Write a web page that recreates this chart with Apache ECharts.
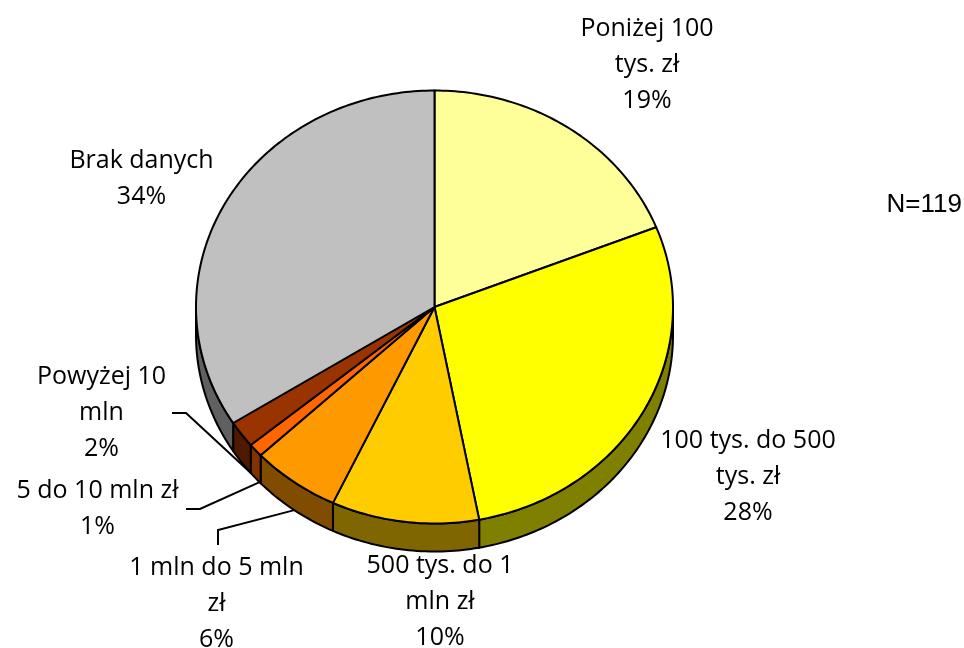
<!DOCTYPE html>
<html>
<head>
<meta charset="utf-8">
<script src="https://cdn.jsdelivr.net/npm/echarts@6/dist/echarts.min.js"></script>
<style>
  html, body { margin: 0; padding: 0; background: #ffffff; }
  #chart { width: 964px; height: 648px; }
</style>
</head>
<body>
<div id="chart"></div>
<script>
// Revenue bands of the surveyed companies (share of answers, %)
const categories = [
  'Poniżej 100 tys. zł',
  '100 tys. do 500 tys. zł',
  '500 tys. do 1 mln zł',
  '1 mln do 5 mln zł',
  '5 do 10 mln zł',
  'Powyżej 10 mln',
  'Brak danych'
];
// category names as they are wrapped on the chart
const categoryLines = [
  ['Poniżej 100', 'tys. zł'],
  ['100 tys. do 500', 'tys. zł'],
  ['500 tys. do 1', 'mln zł'],
  ['1 mln do 5 mln', 'zł'],
  ['5 do 10 mln zł'],
  ['Powyżej 10', 'mln'],
  ['Brak danych']
];
const shares = [19, 28, 10, 6, 1, 2, 34];
const sampleNote = 'N=119';

// ---- look & layout ----
const PIE = { cx: 434.5, cy: 307, rx: 238.5, ry: 216.5, depth: 28 };
const topColors  = ['#FFFF99', '#FFFF00', '#FFCC00', '#FF9900', '#FF6600', '#993300', '#C0C0C0'];
const sideColors = ['#80804D', '#808000', '#806600', '#804C00', '#803300', '#4D1A00', '#606060'];
const LABEL_FONT = '"Open Sans", "DejaVu Sans", sans-serif';
const labelLayout = [
  { x: 647,   y: 65 },
  { x: 748,   y: 477 },
  { x: 440,   y: 602 },
  { x: 216.5, y: 604, leader: [[218, 545], [218, 530]], anchor: 0.5 },
  { x: 97.5,  y: 509, leader: [[186, 509], [200, 509]], anchor: 0.1 },
  { x: 101.5, y: 413, leader: [[172, 413], [186, 413]], anchor: 0.05 },
  { x: 141.5, y: 179 }
];

const total = shares.reduce((s, v) => s + v, 0);
function sliceAngles(i) {
  let before = 0;
  for (let k = 0; k < i; k++) before += shares[k];
  return [before / total * 360, (before + shares[i]) / total * 360];
}
// point on the pie's elliptical rim; angle in degrees, clockwise from 12 o'clock
function rimPoint(deg, dy) {
  const a = deg * Math.PI / 180;
  return [PIE.cx + PIE.rx * Math.sin(a), PIE.cy - PIE.ry * Math.cos(a) + dy];
}
function rimArc(a0, a1, dy) {
  const n = Math.max(2, Math.ceil(Math.abs(a1 - a0)));
  const pts = [];
  for (let k = 0; k <= n; k++) pts.push(rimPoint(a0 + (a1 - a0) * k / n, dy));
  return pts;
}
const edgeStyle = { stroke: '#000000', lineWidth: 2, lineJoin: 'round' };

const chart = echarts.init(document.getElementById('chart'), null, { renderer: 'canvas' });

chart.setOption({
  backgroundColor: '#ffffff',
  animation: false,
  graphic: [{
    type: 'text',
    x: 962, y: 205,
    style: {
      text: sampleNote,
      fontFamily: '"Liberation Sans", Arial, sans-serif',
      fontSize: 26,
      fill: '#000000',
      align: 'right',
      verticalAlign: 'middle'
    }
  }],
  series: [
    {
      // front walls of the slices
      type: 'custom',
      coordinateSystem: 'none',
      silent: true,
      z: 1,
      data: shares,
      renderItem: function (params, api) {
        const i = params.dataIndex;
        const [a0, a1] = sliceAngles(i);
        const s = Math.max(a0, 90), e = Math.min(a1, 270);
        if (s >= e) return { type: 'group', children: [] };
        const pts = rimArc(s, e, 0).concat(rimArc(e, s, PIE.depth));
        return {
          type: 'polygon',
          shape: { points: pts },
          style: Object.assign({ fill: sideColors[i] }, edgeStyle)
        };
      }
    },
    {
      // top faces of the slices
      type: 'custom',
      coordinateSystem: 'none',
      silent: true,
      z: 2,
      data: shares,
      renderItem: function (params, api) {
        const i = params.dataIndex;
        const [a0, a1] = sliceAngles(i);
        const pts = [[PIE.cx, PIE.cy]].concat(rimArc(a0, a1, 0));
        return {
          type: 'polygon',
          shape: { points: pts },
          style: Object.assign({ fill: topColors[i] }, edgeStyle)
        };
      }
    },
    {
      // data labels with leader lines
      type: 'custom',
      coordinateSystem: 'none',
      silent: true,
      z: 3,
      data: shares,
      renderItem: function (params, api) {
        const i = params.dataIndex;
        const lay = labelLayout[i];
        const children = [{
          type: 'text',
          x: lay.x, y: lay.y,
          style: {
            text: categoryLines[i].concat([api.value(0) + '%']).join('\n'),
            fontFamily: LABEL_FONT,
            fontSize: 25,
            lineHeight: 36,
            fill: '#000000',
            align: 'center',
            verticalAlign: 'middle'
          }
        }];
        if (lay.leader) {
          const [a0, a1] = sliceAngles(i);
          const end = rimPoint(a0 + (a1 - a0) * lay.anchor, PIE.depth);
          children.push({
            type: 'polyline',
            shape: { points: lay.leader.concat([end]) },
            style: { stroke: '#000000', lineWidth: 2, fill: null }
          });
        }
        return { type: 'group', children: children };
      }
    }
  ]
});
</script>
</body>
</html>
